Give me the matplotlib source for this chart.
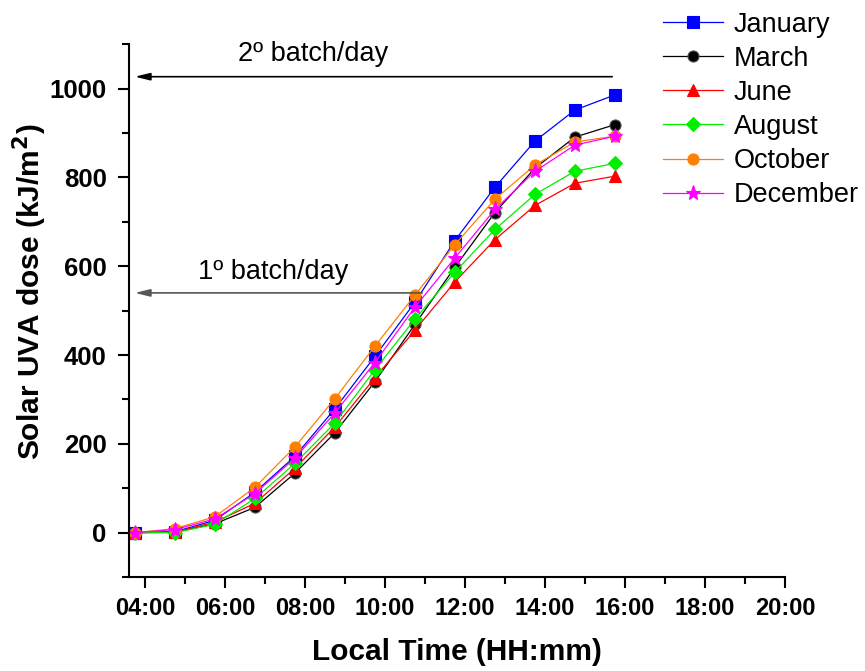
import numpy as np
import matplotlib
matplotlib.use('Agg')
from matplotlib import pyplot as plt
from matplotlib.ticker import MultipleLocator, FuncFormatter

plt.rcParams['font.family'] = ['Liberation Sans', 'DejaVu Sans']

# local time in hours (03:45 ... 15:45)
hours = [3.75, 4.75, 5.75, 6.75, 7.75, 8.75, 9.75, 10.75, 11.75, 12.75, 13.75, 14.75, 15.75]

january = [0, 2, 28, 91, 172, 279, 397, 519, 658, 778, 882, 952, 986]
march = [0, 1, 20, 57, 134, 225, 340, 469, 598, 721, 821, 891, 919]
june = [0, 1, 24, 66, 145, 238, 349, 456, 565, 660, 737, 787, 803]
august = [0, 0, 19, 77, 156, 247, 367, 481, 587, 683, 762, 814, 832]
october = [0, 9, 36, 102, 193, 302, 420, 535, 649, 751, 828, 880, 893]
december = [0, 7, 31, 88, 168, 270, 383, 508, 619, 728, 814, 873, 893]

series = [
    ('January', january, 'blue', 's'),
    ('March', march, 'black', 'o'),
    ('June', june, 'red', '^'),
    ('August', august, '#00ee00', 'D'),
    ('October', october, '#ff8000', 'o'),
    ('December', december, 'magenta', '*'),
]

# batch limits (dose level, end time)
batch2 = (1027, 15.75)
batch1 = (540, 11.0)

fig = plt.figure(figsize=(8.65, 6.71), dpi=100)
ax = fig.add_axes([0.149, 0.140, 0.7585, 0.794])

for name, vals, col, mk in series:
    ms = 11 if mk == '*' else 8
    if mk == 'D':
        ms = 7.5
    ax.plot(hours, vals, color=col, lw=0.9, marker=mk, markersize=ms,
            markeredgecolor=col if name != 'March' else '#555555',
            markeredgewidth=0.8, label=name)

ax.set_xlim(3.6, 20)
ax.set_ylim(-100, 1100)
ax.xaxis.set_major_locator(MultipleLocator(2))
ax.xaxis.set_minor_locator(MultipleLocator(1))
ax.yaxis.set_major_locator(MultipleLocator(200))
ax.yaxis.set_minor_locator(MultipleLocator(100))
ax.xaxis.set_major_formatter(FuncFormatter(lambda v, p: '%02d:00' % int(round(v))))

for s in ['top', 'right']:
    ax.spines[s].set_visible(False)
for s in ['left', 'bottom']:
    ax.spines[s].set_linewidth(1.5)
ax.tick_params(which='major', direction='out', length=8, width=1.5)
ax.tick_params(which='minor', direction='out', length=5, width=1.5)
ax.tick_params(axis='y', labelsize=18.5, pad=8)
ax.tick_params(axis='x', labelsize=17, pad=6)
for lab in ax.get_xticklabels() + ax.get_yticklabels():
    lab.set_fontweight('bold')

ax.set_xlabel('Local Time (HH:mm)', fontsize=21.5, fontweight='bold', labelpad=13)
ax.set_ylabel('Solar UVA dose (kJ/m$^\\mathbf{2}$)', fontsize=21.5, fontweight='bold')
ax.yaxis.set_label_coords(-0.121, 0.535)

# batch arrows
ax.annotate('', xy=(3.68, batch2[0]), xytext=(batch2[1], batch2[0]),
            arrowprops=dict(arrowstyle='-|>,head_length=0.9,head_width=0.22', color='black', lw=1.2))
ax.text(8.2, batch2[0] + 22, '2º batch/day', fontsize=19.5, ha='center', va='bottom')
ax.annotate('', xy=(3.68, batch1[0]), xytext=(batch1[1], batch1[0]),
            arrowprops=dict(arrowstyle='-|>,head_length=0.9,head_width=0.22', color='#555555', lw=1.2))
ax.text(7.2, batch1[0] + 18, '1º batch/day', fontsize=19.5, ha='center', va='bottom')

ax.legend(loc='upper left', bbox_to_anchor=(0.754, 0.999), bbox_transform=fig.transFigure,
          frameon=False, fontsize=19.5, handlelength=2.2, labelspacing=0.3,
          handletextpad=0.4, borderaxespad=0)

fig.savefig('out.png', dpi=100)
